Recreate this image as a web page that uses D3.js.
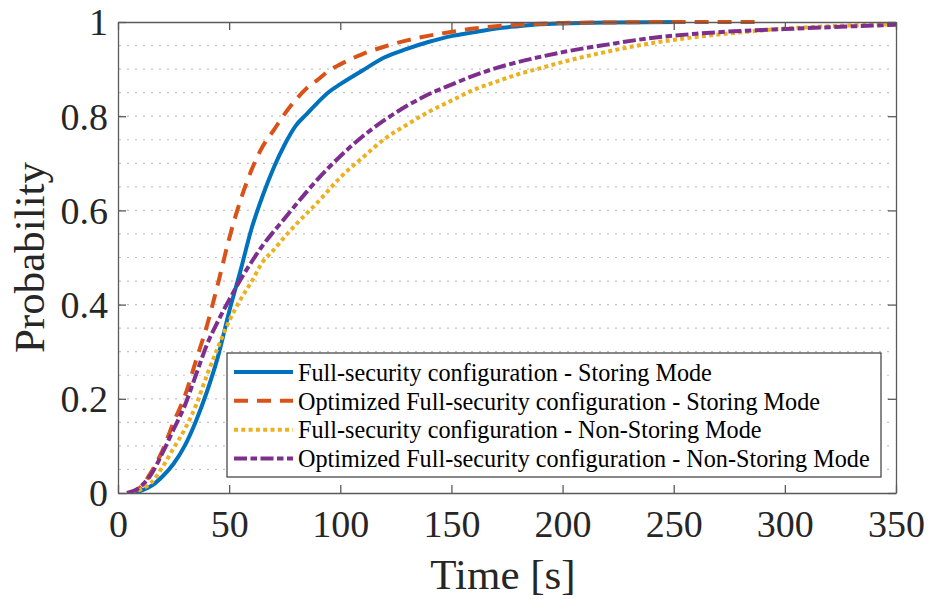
<!DOCTYPE html>
<html>
<head>
<meta charset="utf-8">
<script src="https://cdn.jsdelivr.net/npm/d3@7"></script>
<style>
  html, body { margin: 0; padding: 0; background: #fff; }
  svg { display: block; }
</style>
</head>
<body>
<svg id="chart" width="928" height="599"></svg>
<script>
// ---- data ----
const xTicks = [0, 50, 100, 150, 200, 250, 300, 350];
const yTicks = [0, 0.2, 0.4, 0.6, 0.8, 1];
const yTickLabels = ["0", "0.2", "0.4", "0.6", "0.8", "1"];
const yGrid = [0.05,0.1,0.15,0.2,0.25,0.3,0.35,0.4,0.45,0.5,0.55,0.6,0.65,0.7,0.75,0.8,0.85,0.9,0.95];

const seriesNames = [
  "Full-security configuration - Storing Mode",
  "Optimized Full-security configuration - Storing Mode",
  "Full-security configuration - Non-Storing Mode",
  "Optimized Full-security configuration - Non-Storing Mode"
];

const timeFullStoring = [7,10,15,20,25,30,35,40,45,50,55,60,65,70,75,80,85,90,95,100,110,120,130,140,150,160,170,180,190,200,220,254];
const probFullStoring = [0,0.004,0.015,0.035,0.062,0.1,0.152,0.215,0.29,0.385,0.47,0.56,0.63,0.69,0.74,0.78,0.805,0.83,0.852,0.868,0.897,0.925,0.943,0.958,0.97,0.978,0.986,0.991,0.995,0.997,0.999,1];

const timeOptStoring = [5,10,15,20,25,30,35,40,45,50,55,60,65,70,75,80,85,90,95,100,110,120,130,140,150,160,170,180,200,220,250,288];
const probOptStoring = [0,0.012,0.045,0.09,0.15,0.205,0.28,0.355,0.445,0.54,0.62,0.685,0.735,0.77,0.805,0.835,0.86,0.878,0.897,0.91,0.932,0.948,0.961,0.971,0.979,0.986,0.991,0.994,0.998,0.999,1,1];

const timeFullNonStoring = [6,10,15,20,25,30,35,40,45,50,55,60,65,70,75,80,90,100,110,120,130,140,150,160,170,180,190,200,220,240,260,280,300,320,350];
const probFullNonStoring = [0,0.007,0.022,0.055,0.095,0.135,0.185,0.25,0.31,0.365,0.41,0.448,0.49,0.516,0.544,0.57,0.618,0.67,0.712,0.752,0.782,0.81,0.833,0.856,0.873,0.889,0.902,0.915,0.937,0.955,0.968,0.978,0.986,0.991,0.995];

const timeOptNonStoring = [4,10,15,20,25,30,35,40,45,50,55,60,65,70,75,80,90,100,110,120,130,140,150,160,170,180,190,200,220,240,260,280,300,320,350];
const probOptNonStoring = [0,0.013,0.04,0.085,0.135,0.185,0.25,0.315,0.365,0.41,0.452,0.49,0.525,0.555,0.583,0.612,0.667,0.715,0.757,0.792,0.822,0.847,0.867,0.886,0.902,0.915,0.926,0.936,0.952,0.966,0.975,0.981,0.985,0.989,0.994];

const seriesTimes = [timeFullStoring, timeOptStoring, timeFullNonStoring, timeOptNonStoring];
const seriesProbs = [probFullStoring, probOptStoring, probFullNonStoring, probOptNonStoring];
const seriesColors = ["#0072BD", "#D95319", "#EDB120", "#7E2F8E"];
const seriesDash = [null, "14,9", "4,3.3", "13,3.5,6.5,3.5"];

// ---- layout ----
const svg = d3.select("#chart");
const L = 118, R = 896, T = 22, B = 493;
const x = d3.scaleLinear().domain([0, 350]).range([L, R]);
const y = d3.scaleLinear().domain([0, 1]).range([B, T]);
const axisColor = "#5a5a5a";
const tickFont = "'Liberation Serif', 'Times New Roman', serif";

// grid (dotted horizontal)
svg.append("g").selectAll("line").data(yGrid).join("line")
  .attr("x1", L + 1).attr("x2", R - 1)
  .attr("y1", d => y(d)).attr("y2", d => y(d))
  .attr("stroke", "#c4c4c4").attr("stroke-width", 1.2)
  .attr("stroke-dasharray", "2,6");

// clip
svg.append("clipPath").attr("id", "clip").append("rect")
  .attr("x", L).attr("y", T - 3).attr("width", R - L).attr("height", B - T + 3);

// lines
const line = d3.line().x(d => x(d[0])).y(d => y(d[1])).curve(d3.curveMonotoneX);
const plot = svg.append("g").attr("clip-path", "url(#clip)");
seriesTimes.forEach((ts, i) => {
  const pts = ts.map((t, k) => [t, seriesProbs[i][k]]);
  plot.append("path").datum(pts)
    .attr("d", line)
    .attr("fill", "none")
    .attr("stroke", seriesColors[i])
    .attr("stroke-width", 4)
    .attr("stroke-linejoin", "round")
    .attr("stroke-dasharray", seriesDash[i]);
});

// axes (box with inward ticks)
const tl = 8;
const xAxisB = d3.axisBottom(x).tickValues(xTicks).tickSizeInner(-tl).tickSizeOuter(0).tickFormat(d3.format("d")).tickPadding(14);
const xAxisT = d3.axisTop(x).tickValues(xTicks).tickSizeInner(-tl).tickSizeOuter(0).tickFormat("");
const yAxisL = d3.axisLeft(y).tickValues(yTicks).tickSizeInner(-tl).tickSizeOuter(0).tickFormat((d, i) => yTickLabels[i]).tickPadding(10);
const yAxisR = d3.axisRight(y).tickValues(yTicks).tickSizeInner(-tl).tickSizeOuter(0).tickFormat("");

function style(g) {
  g.selectAll("path.domain").attr("stroke", axisColor).attr("stroke-width", 1.3);
  g.selectAll(".tick line").attr("stroke", axisColor).attr("stroke-width", 1.3);
  g.selectAll(".tick text").attr("fill", "#262626").style("font-family", tickFont).style("font-size", "38px");
}
svg.append("g").attr("transform", `translate(0,${B})`).call(xAxisB).call(style)
  .selectAll(".tick text").attr("dy", "0.78em");
svg.append("g").attr("transform", `translate(0,${T})`).call(xAxisT).call(style);
svg.append("g").attr("transform", `translate(${L},0)`).call(yAxisL).call(style)
  .selectAll(".tick text").attr("dy", "0.34em");
svg.append("g").attr("transform", `translate(${R},0)`).call(yAxisR).call(style);

// axis titles
svg.append("text")
  .attr("x", (L + R) / 2 - 4).attr("y", 589)
  .attr("text-anchor", "middle")
  .style("font-family", tickFont).style("font-size", "43px").attr("fill", "#262626")
  .text("Time [s]");
svg.append("text")
  .attr("transform", `translate(44,${(T + B) / 2}) rotate(-90)`)
  .attr("text-anchor", "middle")
  .style("font-family", tickFont).style("font-size", "43px").attr("fill", "#262626")
  .text("Probability");

// legend
const lg = svg.append("g");
const lgX = 227, lgY = 353, lgW = 654, lgH = 124;
lg.append("rect").attr("x", lgX).attr("y", lgY).attr("width", lgW).attr("height", lgH)
  .attr("fill", "#fff").attr("stroke", "#3a3a3a").attr("stroke-width", 1.2);
const rowY = d3.scaleLinear().domain([0, 3]).range([372, 458.5]);
seriesNames.forEach((name, i) => {
  const yy = rowY(i);
  lg.append("line").attr("x1", 234).attr("x2", 293).attr("y1", yy).attr("y2", yy)
    .attr("stroke", seriesColors[i]).attr("stroke-width", 4)
    .attr("stroke-dasharray", seriesDash[i]);
  lg.append("text").attr("x", 298).attr("y", yy).attr("dy", "0.36em")
    .style("font-family", tickFont).style("font-size", "24.2px").attr("fill", "#000")
    .text(name);
});
</script>
</body>
</html>
